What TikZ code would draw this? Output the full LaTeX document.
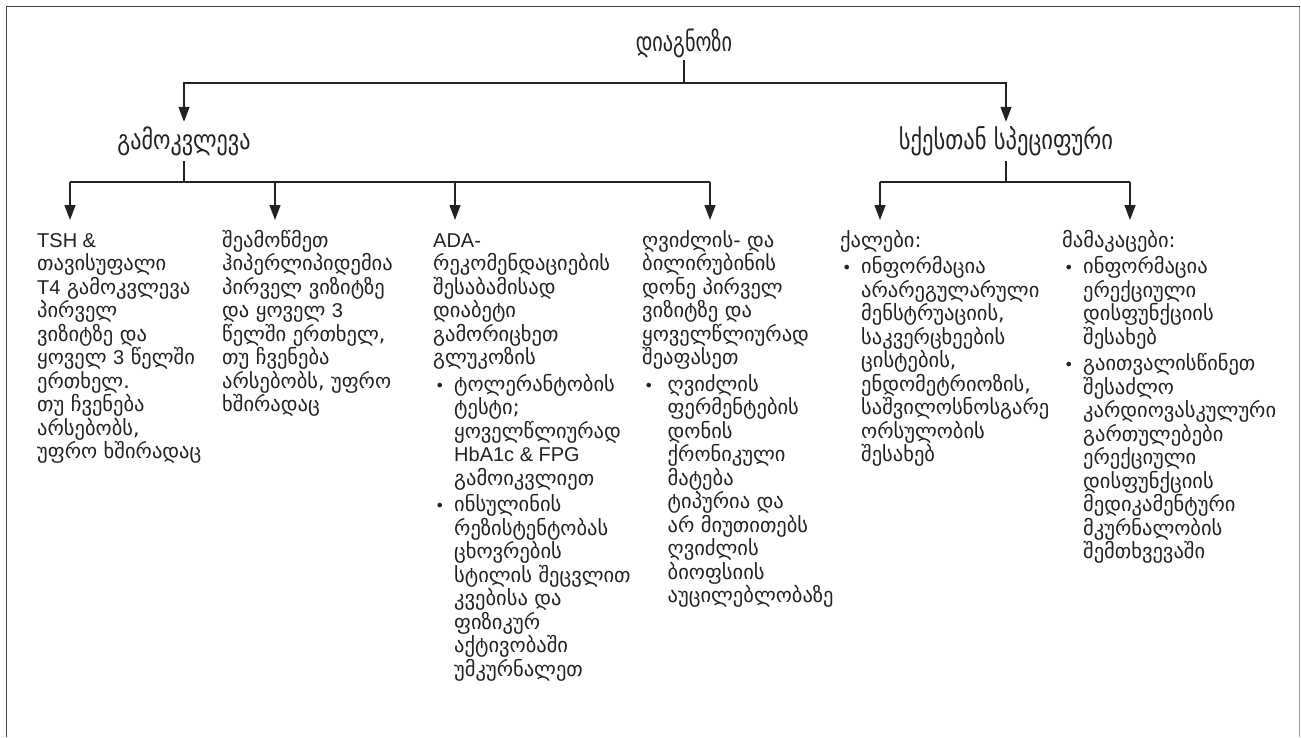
\documentclass[tikz,border=0pt]{standalone}
\usepackage{fontspec}
\setmainfont{DejaVu Sans}
\newfontfamily\latf{Liberation Sans}
\newfontfamily\hdf[FakeStretch=0.82]{DejaVu Sans}
\newfontfamily\hdn[FakeStretch=0.75]{DejaVu Sans}
\usetikzlibrary{arrows.meta}
\definecolor{txt}{HTML}{222222}
\definecolor{lc}{HTML}{222222}
\newcommand\La[1]{{\latf\fontsize{20}{23.5}\selectfont #1}}
\newcommand\fs{\rule{0pt}{27pt}}
\newcommand\bl[1][21pt]{\makebox[#1][l]{\hspace{2pt}{\fontsize{16}{16}\selectfont •}}}
\newcommand\ind[1][21pt]{\hspace*{#1}}
\tikzset{
  ln/.style={line width=1.3pt, draw=lc},
  ar/.style={ln, -{Triangle[length=15pt,width=11pt]}},
  hd/.style={inner sep=0pt, font=\hdf\fontsize{27}{30}\selectfont, text=txt},
  col/.style={anchor=north west, inner sep=0pt, align=left, font=\fontsize{20.5}{23.5}\selectfont, text=txt},
  frameL/.style={line width=1.8pt, draw=black!75},
  frameR/.style={line width=1.5pt, draw=black!40}
}
\begin{document}
\begin{tikzpicture}[x=1pt,y=-1pt]
\useasboundingbox (0,0) rectangle (1301,737);
\draw[frameL] (6.5,737) -- (6.5,6.5) -- (1299.5,6.5);
\draw[frameR] (1299.5,6.5) -- (1299.5,737);

\node[hd, font=\hdn\fontsize{27}{30}\selectfont, minimum height=34pt] (diag) at (684,43) {დიაგნოზი};
\node[hd, minimum height=39pt] (gam) at (184,141.5) {გამოკვლევა};
\node[hd, font=\hdf\fontsize{27.5}{30}\selectfont, minimum height=39pt] (sex) at (1006,141.5) {სქესთან სპეციფური};

\node[col] (c1) at (37,220) {\fs\La{TSH \&}\\
თავისუფალი\\
\La{T4} გამოკვლევა\\
პირველ\\
ვიზიტზე და\\
ყოველ \La{3} წელში\\
ერთხელ.\\
თუ ჩვენება\\
არსებობს,\\
უფრო ხშირადაც};

\node[col] (c2) at (222,220) {\fs შეამოწმეთ\\
ჰიპერლიპიდემია\\
პირველ ვიზიტზე\\
და ყოველ \La{3}\\
წელში ერთხელ,\\
თუ ჩვენება\\
არსებობს, უფრო\\
ხშირადაც};

\node[col] (c3) at (433,220) {\fs\La{ADA-}\\
რეკომენდაციების\\
შესაბამისად\\
დიაბეტი\\
გამორიცხეთ\\
გლუკოზის\\[3pt]
\bl ტოლერანტობის\\
\ind ტესტი;\\
\ind ყოველწლიურად\\
\ind\La{HbA1c \& FPG}\\
\ind გამოიკვლიეთ\\[3pt]
\bl ინსულინის\\
\ind რეზისტენტობას\\
\ind ცხოვრების\\
\ind სტილის შეცვლით\\
\ind კვებისა და\\
\ind ფიზიკურ\\
\ind აქტივობაში\\
\ind უმკურნალეთ};

\node[col] (c4) at (642,220) {\fs ღვიძლის- და\\
ბილირუბინის\\
დონე პირველ\\
ვიზიტზე და\\
ყოველწლიურად\\
შეაფასეთ\\[3pt]
\bl[19pt] ღვიძლის\\
\ind[19pt] ფერმენტების\\
\ind[19pt] დონის\\
\ind[19pt] ქრონიკული\\
\ind[19pt] მატება\\
\ind[19pt] ტიპურია და\\
\ind[19pt] არ მიუთითებს\\
\ind[19pt] ღვიძლის\\
\ind[19pt] ბიოფსიის\\
\ind[19pt] აუცილებლობაზე};

\node[col] (c5) at (840,220) {\fs ქალები:\\[3pt]
\bl ინფორმაცია\\
\ind არარეგულარული\\
\ind მენსტრუაციის,\\
\ind საკვერცხეების\\
\ind ცისტების,\\
\ind ენდომეტრიოზის,\\
\ind საშვილოსნოსგარე\\
\ind ორსულობის\\
\ind შესახებ};

\node[col] (c6) at (1062,220) {\fs მამაკაცები:\\[3pt]
\bl ინფორმაცია\\
\ind ერექციული\\
\ind დისფუნქციის\\
\ind შესახებ\\[3pt]
\bl გაითვალისწინეთ\\
\ind შესაძლო\\
\ind კარდიოვასკულური\\
\ind გართულებები\\
\ind ერექციული\\
\ind დისფუნქციის\\
\ind მედიკამენტური\\
\ind მკურნალობის\\
\ind შემთხვევაში};

\coordinate (j0) at (684,83);
\draw[ln] (diag.south) -- (j0);
\draw[ar] (j0) -| (gam.north);
\draw[ar] (j0) -| (sex.north);

\coordinate (j1) at (184,182);
\coordinate (j2) at (1006,182);
\draw[ln] (gam.south) -- (j1);
\draw[ln] (sex.south) -- (j2);

\coordinate (b1) at (70,182);
\coordinate (b2) at (275,182);
\coordinate (b3) at (455,182);
\coordinate (b4) at (710,182);
\coordinate (b5) at (880,182);
\coordinate (b6) at (1130,182);
\draw[ln] (b1) -- (b4);
\draw[ln] (b5) -- (b6);
\draw[ar] (b1) -- (b1 |- c1.north);
\draw[ar] (b2) -- (b2 |- c2.north);
\draw[ar] (b3) -- (b3 |- c3.north);
\draw[ar] (b4) -- (b4 |- c4.north);
\draw[ar] (b5) -- (b5 |- c5.north);
\draw[ar] (b6) -- (b6 |- c6.north);
\end{tikzpicture}
\end{document}
